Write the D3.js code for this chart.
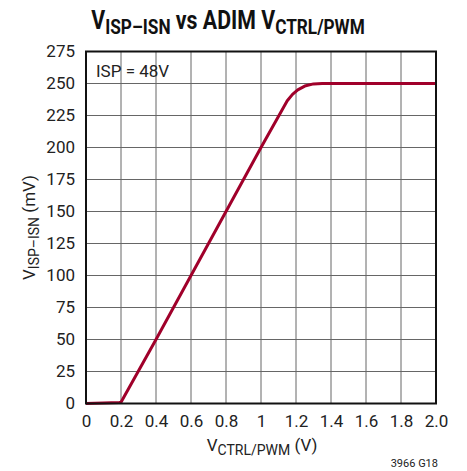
<!DOCTYPE html>
<html>
<head>
<meta charset="utf-8">
<script src="https://cdn.jsdelivr.net/npm/d3@7"></script>
<style>
  body { margin: 0; background: #fff; }
  text { font-family: Roboto, "DejaVu Sans Condensed", sans-serif; fill: #222; }
  .grid line { stroke: #666; stroke-width: 1; }
  .frame { fill: none; stroke: #111; stroke-width: 2; }
  .curve { fill: none; stroke: #a0002a; stroke-width: 3; stroke-linejoin: round; }
</style>
</head>
<body>
<script>
//curve: ctrl voltage (V) vs sense voltage (mV)
var vctrl = [0, 0.1, 0.19, 0.2, 0.4, 0.6, 0.8, 1.0, 1.15, 1.18, 1.21, 1.25, 1.3, 1.35, 1.6, 2.0];
var vsense = [0, 0.3, 0.8, 1, 50, 100, 150, 200, 236.5, 241.5, 245, 248, 249.7, 250, 250, 250];

var xTicks = [0, 0.2, 0.4, 0.6, 0.8, 1, 1.2, 1.4, 1.6, 1.8, 2.0];
var xTickLabels = ["0", "0.2", "0.4", "0.6", "0.8", "1", "1.2", "1.4", "1.6", "1.8", "2.0"];
var yTicks = [0, 25, 50, 75, 100, 125, 150, 175, 200, 225, 250, 275];

//frame
var width = 467,
	height = 471;
var pLeft = 86, pRight = 436, pTop = 51.5, pBottom = 403.5;

var svg = d3.select("body")
	.append("svg")
	.attr("width", width)
	.attr("height", height);

var x = d3.scaleLinear().domain([0, 2]).range([pLeft, pRight]);
var y = d3.scaleLinear().domain([0, 275]).range([pBottom, pTop]);

//grid lines
var grid = svg.append("g").attr("class", "grid");
grid.selectAll(".vx")
	.data(xTicks.slice(1, -1))
	.enter()
	.append("line")
	.attr("x1", function(d){ return x(d); })
	.attr("x2", function(d){ return x(d); })
	.attr("y1", pTop)
	.attr("y2", pBottom);
grid.selectAll(".hy")
	.data(yTicks.slice(1, -1))
	.enter()
	.append("line")
	.attr("x1", pLeft)
	.attr("x2", pRight)
	.attr("y1", function(d){ return y(d); })
	.attr("y2", function(d){ return y(d); });

//tick labels through axes, no tick marks
svg.append("g")
	.attr("transform", "translate(0," + pBottom + ")")
	.call(d3.axisBottom(x).tickValues(xTicks).tickSize(0).tickPadding(11)
		.tickFormat(function(d, i){ return xTickLabels[i]; }));
svg.append("g")
	.attr("transform", "translate(" + pLeft + ",0)")
	.call(d3.axisLeft(y).tickValues(yTicks).tickSize(0).tickPadding(11));
svg.selectAll(".domain").remove();
svg.selectAll(".tick text")
	.attr("font-family", null)
	.attr("font-size", null)
	.style("font-size", "17px")
	.attr("fill", "#222");

//the curve
var line = d3.line()
	.x(function(d){ return x(d[0]); })
	.y(function(d){ return y(d[1]); });
svg.append("path")
	.datum(d3.zip(vctrl, vsense))
	.attr("class", "curve")
	.attr("d", line);

svg.append("rect")
	.attr("class", "frame")
	.attr("x", pLeft)
	.attr("y", pTop)
	.attr("width", pRight - pLeft)
	.attr("height", pBottom - pTop);

//annotation
svg.append("text")
	.attr("x", 96)
	.attr("y", 77)
	.style("font-size", "17px")
	.text("ISP = 48V");

//title, squeezed to look condensed
var title = svg.append("g")
	.attr("transform", "translate(228,29) scale(0.82,1)")
	.append("text")
	.attr("text-anchor", "middle")
	.style("font-size", "26px")
	.style("font-weight", "bold")
	.style("fill", "#111");
title.append("tspan").text("V");
title.append("tspan").attr("dy", 5).style("font-size", "21px").text("ISP–ISN");
title.append("tspan").attr("dy", -5).text(" vs ADIM V");
title.append("tspan").attr("dy", 5).style("font-size", "21px").text("CTRL/PWM");

//x label
var xl = svg.append("text")
	.attr("x", 262)
	.attr("y", 451)
	.attr("text-anchor", "middle")
	.style("font-size", "17px");
xl.append("tspan").text("V");
xl.append("tspan").attr("dy", 4).style("font-size", "14px").text("CTRL/PWM");
xl.append("tspan").attr("dy", -4).text(" (V)");

//y label
var yl = svg.append("text")
	.attr("transform", "translate(35," + ((pTop + pBottom) / 2) + ") rotate(-90)")
	.attr("text-anchor", "middle")
	.style("font-size", "17px");
yl.append("tspan").text("V");
yl.append("tspan").attr("dy", 4).style("font-size", "14px").text("ISP–ISN");
yl.append("tspan").attr("dy", -4).text(" (mV)");

svg.append("text")
	.attr("x", 438)
	.attr("y", 467)
	.attr("text-anchor", "end")
	.style("font-size", "11px")
	.text("3966 G18");
</script>
</body>
</html>
